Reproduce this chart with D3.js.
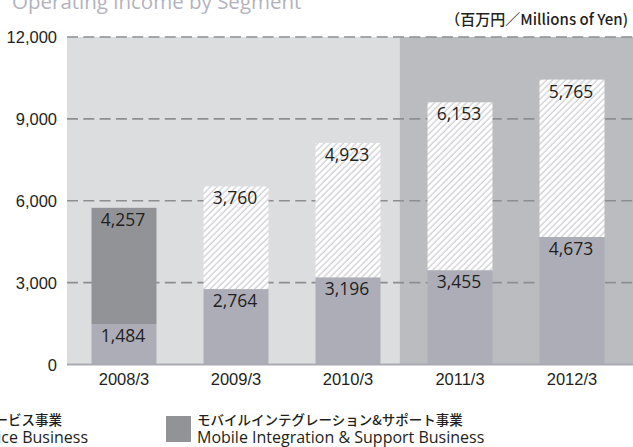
<!DOCTYPE html>
<html>
<head>
<meta charset="utf-8">
<script src="https://cdn.jsdelivr.net/npm/d3@7"></script>
<style>
  html, body { margin: 0; padding: 0; background: #fff; }
  svg { display: block; }
</style>
</head>
<body>
<div id="chart"></div>
<script>
// data
const categories = ['2008/3', '2009/3', '2010/3', '2011/3', '2012/3'];
const serviceValues = [1484, 2764, 3196, 3455, 4673];      // bottom segment
const integrationValues = [4257, null, null, null, null];   // dark segment
const otherValues = [null, 3760, 4923, 6153, 5765];         // hatched segment
const yTicks = [0, 3000, 6000, 9000, 12000];

const width = 633, height = 447;
const svg = d3.select('#chart').append('svg')
  .attr('width', width).attr('height', height);

const x = d3.scaleBand().domain(categories)
  .range([68, 628]).paddingInner(0.42).paddingOuter(0.21);
const y = d3.scaleLinear().domain([0, 12000]).range([364.5, 37]);

// hatch pattern
const defs = svg.append('defs');
const pat = defs.append('pattern')
  .attr('id', 'hatch').attr('patternUnits', 'userSpaceOnUse')
  .attr('width', 4.5).attr('height', 10)
  .attr('patternTransform', 'rotate(45)');
pat.append('rect').attr('width', 4.5).attr('height', 10).attr('fill', '#fff');
pat.append('line').attr('x1', 2).attr('x2', 2).attr('y1', 0).attr('y2', 10)
  .attr('stroke', '#cfd0d4').attr('stroke-width', 1.3);

// plot background, darker from 2011/3 on
const split = x('2011/3') - x.step() * 0.25;
svg.append('rect').attr('x', 67).attr('y', y(12000))
  .attr('width', split - 67).attr('height', y(0) - y(12000)).attr('fill', '#dcdddf');
svg.append('rect').attr('x', split).attr('y', y(12000))
  .attr('width', width - split).attr('height', y(0) - y(12000)).attr('fill', '#bbbcc0');

// grid
svg.append('g').selectAll('line')
  .data(yTicks.filter(d => d > 0))
  .join('line')
  .attr('x1', 67).attr('x2', width)
  .attr('y1', d => y(d)).attr('y2', d => y(d))
  .attr('stroke', '#8d8e92').attr('stroke-width', 1.6)
  .attr('stroke-dasharray', '11,5.3');

// y axis
const yAxis = svg.append('g').attr('transform', 'translate(67,0)')
  .call(d3.axisLeft(y).tickValues(yTicks).tickSize(0).tickPadding(10)
    .tickFormat(d3.format(',')));
yAxis.select('.domain').remove();
yAxis.selectAll('text')
  .attr('font-family', '"Liberation Sans", Arial, sans-serif')
  .attr('font-size', 16.5).attr('fill', '#231f20').attr('dy', '0.36em');

// bars
const bw = x.bandwidth();
const bars = svg.append('g');
categories.forEach((c, i) => {
  const base = serviceValues[i];
  const topVal = integrationValues[i] != null ? integrationValues[i] : otherValues[i];
  const topFill = integrationValues[i] != null ? '#929396' : 'url(#hatch)';
  bars.append('rect')
    .attr('x', x(c)).attr('y', y(base)).attr('width', bw)
    .attr('height', y(0) - y(base)).attr('fill', '#adadb8');
  bars.append('rect')
    .attr('x', x(c)).attr('y', y(base + topVal)).attr('width', bw)
    .attr('height', y(base) - y(base + topVal)).attr('fill', topFill);
  const lbl = [[base, base], [base + topVal, topVal]];
  lbl.forEach(([pos, v]) => {
    bars.append('text')
      .attr('x', x(c) + bw / 2 - 1).attr('y', y(pos) + 18)
      .attr('text-anchor', 'middle')
      .attr('font-family', '"Open Sans", "Noto Sans", sans-serif')
      .attr('font-size', 17.5).attr('fill', '#231f20')
      .text(d3.format(',')(v));
  });
});

// baseline
svg.append('line').attr('x1', 67).attr('x2', width)
  .attr('y1', y(0)).attr('y2', y(0))
  .attr('stroke', '#a9a9b3').attr('stroke-width', 2);

// x axis
const xAxis = svg.append('g').attr('transform', `translate(0,${y(0)})`)
  .call(d3.axisBottom(x).tickSize(0).tickPadding(9));
xAxis.select('.domain').remove();
xAxis.selectAll('text')
  .attr('font-family', '"Liberation Sans", Arial, sans-serif')
  .attr('font-size', 16.5).attr('fill', '#231f20');

// title and unit
svg.append('text').attr('x', 12).attr('y', 9)
  .attr('font-family', '"Open Sans", "Noto Sans", sans-serif')
  .attr('font-size', 20.5).attr('fill', '#b3b3bd')
  .text('Operating income by Segment');
svg.append('text').attr('x', 628).attr('y', 25)
  .attr('text-anchor', 'end')
  .attr('font-family', '"Noto Sans CJK JP", sans-serif')
  .attr('font-size', 15).attr('font-weight', 500).attr('fill', '#231f20')
  .text('（百万円／Millions of Yen)');

// legend
const legend = svg.append('g')
  .attr('font-family', '"Noto Sans CJK JP", sans-serif').attr('fill', '#231f20');
legend.append('text').attr('x', 62).attr('y', 425).attr('text-anchor', 'end')
  .attr('font-size', 13.5).attr('font-weight', 500).text('モバイルサービス事業');
legend.append('text').attr('x', 88).attr('y', 443).attr('text-anchor', 'end')
  .attr('font-family', '"Open Sans", "Noto Sans", sans-serif')
  .attr('font-size', 16).text('Mobile Service Business');
legend.append('rect').attr('x', 166).attr('y', 416).attr('width', 25).attr('height', 26)
  .attr('fill', '#929396');
legend.append('text').attr('x', 197).attr('y', 425)
  .attr('font-size', 13.5).attr('font-weight', 500).text('モバイルインテグレーション&サポート事業');
legend.append('text').attr('x', 197).attr('y', 443)
  .attr('font-family', '"Open Sans", "Noto Sans", sans-serif')
  .attr('font-size', 16).text('Mobile Integration & Support Business');
</script>
</body>
</html>
